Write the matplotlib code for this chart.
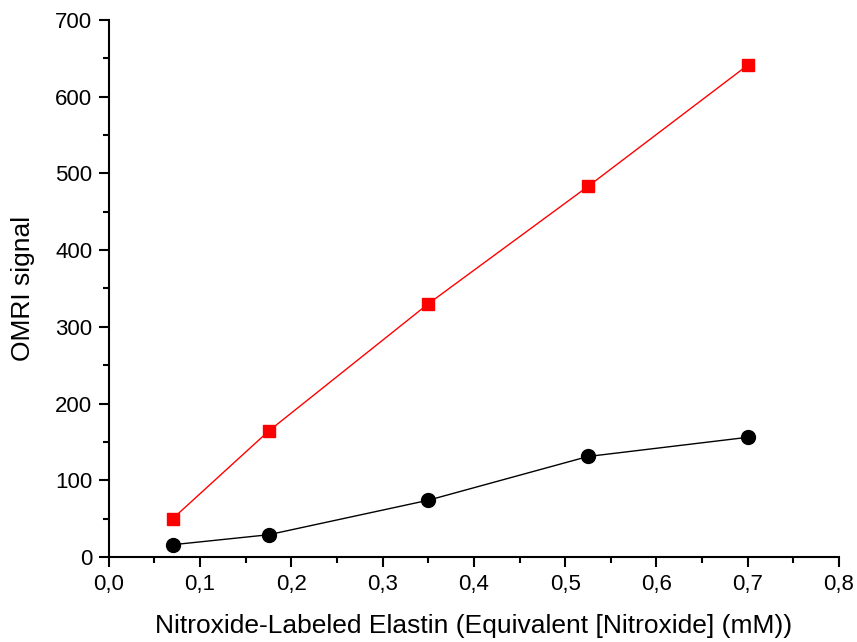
import matplotlib
matplotlib.use("Agg")
import matplotlib.pyplot as plt
from matplotlib.ticker import MultipleLocator, FuncFormatter

x = [0.07, 0.175, 0.35, 0.525, 0.70]
red_signal = [50, 164, 330, 483, 641]
black_signal = [16, 29, 74, 131, 156]

plt.rcParams['font.family'] = ['Liberation Sans', 'DejaVu Sans']

fig = plt.figure(figsize=(8.57, 6.42), dpi=100)
ax = fig.add_axes([0.127, 0.1324, 0.852, 0.8366])

ax.plot(x, red_signal, color='#ff0000', lw=1.0, marker='s', ms=9, mfc='#ff0000', mec='#ff0000', zorder=3)
ax.plot(x, black_signal, color='black', lw=1.0, marker='o', ms=10, mfc='black', mec='black', zorder=3)

ax.set_xlim(0, 0.8)
ax.set_ylim(0, 700)
ax.xaxis.set_major_locator(MultipleLocator(0.1))
ax.xaxis.set_minor_locator(MultipleLocator(0.05))
ax.yaxis.set_major_locator(MultipleLocator(100))
ax.yaxis.set_minor_locator(MultipleLocator(50))
ax.xaxis.set_major_formatter(FuncFormatter(lambda v, p: f"{v:.1f}".replace('.', ',')))

for s in ['top', 'right']:
    ax.spines[s].set_visible(False)
for s in ['left', 'bottom']:
    ax.spines[s].set_linewidth(1.5)

ax.tick_params(which='major', direction='out', length=7, width=1.5, labelsize=16, pad=5)
ax.tick_params(which='minor', direction='out', length=4, width=1.5)

ax.set_xlabel('Nitroxide-Labeled Elastin (Equivalent [Nitroxide] (mM))', fontsize=19, labelpad=14)
ax.set_ylabel('OMRI signal', fontsize=19, labelpad=14)

fig.savefig('out.png', dpi=100)
